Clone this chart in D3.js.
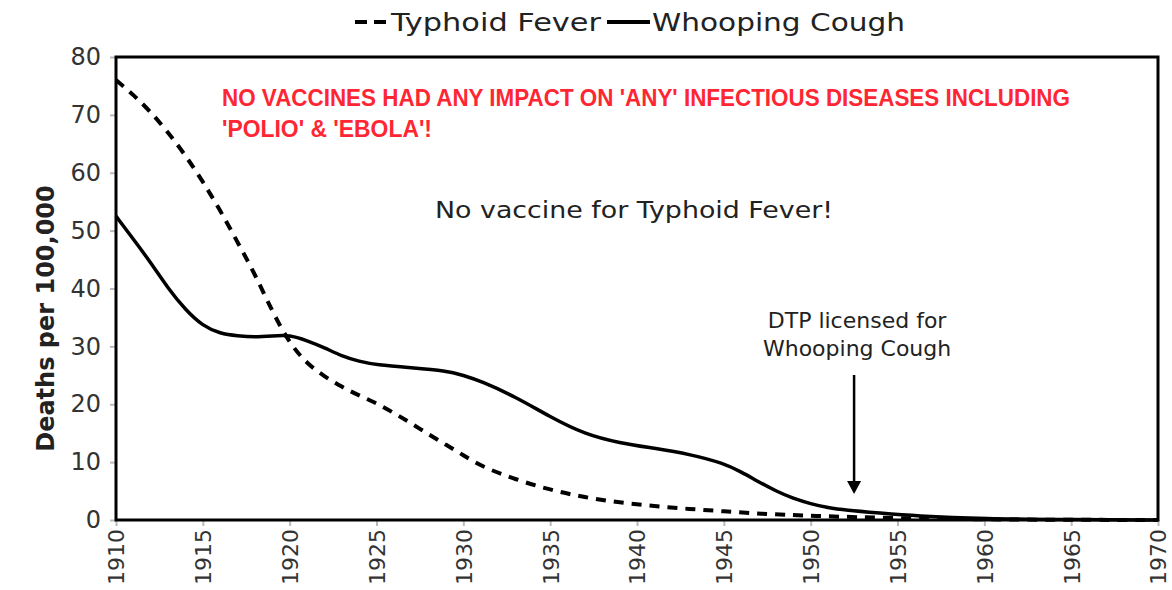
<!DOCTYPE html>
<html>
<head>
<meta charset="utf-8">
<script src="https://cdn.jsdelivr.net/npm/d3@7"></script>
<style>
  body { margin: 0; background: #fff; }
  svg text { font-family: "DejaVu Sans", Verdana, sans-serif; }
</style>
</head>
<body>
<div class="chart"></div>
<script>
// values (deaths per 100,000)
var typhoidYears = [1910, 1911, 1912, 1913, 1914, 1915, 1916, 1917, 1918, 1919, 1920, 1921, 1922, 1923, 1924, 1925, 1926, 1927, 1928, 1929, 1930, 1931, 1933, 1935, 1937, 1939, 1941, 1943, 1945, 1947, 1950, 1955, 1960, 1965, 1970];
var typhoidValues = [76, 73.5, 70.5, 67, 63, 58.5, 53.5, 48, 42.5, 36, 30.5, 27, 24.8, 23, 21.5, 20.2, 18.5, 16.7, 14.8, 13, 11.2, 9.3, 7, 5.2, 3.9, 3, 2.4, 1.9, 1.5, 1.1, 0.7, 0.3, 0.1, 0.03, 0];
var whoopingYears = [1910, 1911, 1912, 1913, 1914, 1915, 1916, 1917, 1918, 1919, 1920, 1921, 1922, 1923, 1924, 1925, 1927, 1929, 1930, 1931, 1933, 1935, 1937, 1939, 1941, 1943, 1945, 1946, 1947, 1948, 1949, 1950, 1951, 1952, 1954, 1956, 1960, 1965, 1970];
var whoopingValues = [52.5, 48.5, 44.5, 40, 36.3, 33.5, 32.2, 31.8, 31.6, 31.8, 32, 31, 29.8, 28.3, 27.4, 26.8, 26.3, 25.8, 25, 24, 21.3, 17.8, 14.8, 13.3, 12.4, 11.4, 9.8, 8.3, 6.6, 5, 3.7, 2.8, 2.1, 1.7, 1.2, 0.7, 0.2, 0.05, 0];
var xTicks = d3.range(1910, 1971, 5);
var yTicks = [0, 10, 20, 30, 40, 50, 60, 70, 80];
var seriesNames = ['Typhoid Fever', 'Whooping Cough'];
var headline = ["NO VACCINES HAD ANY IMPACT ON 'ANY' INFECTIOUS DISEASES INCLUDING", "'POLIO' & 'EBOLA'!"];
var typhoidNote = 'No vaccine for Typhoid Fever!';
var dtpNote = ['DTP licensed for', 'Whooping Cough'];
var dtpYear = 1952.5;

function init() {
  var width = 1172,
      height = 590,
      area = { x1: 116, y1: 57, x2: 1158, y2: 520 };

  var svg = d3.select('.chart')
    .append('svg')
      .attr('width', width)
      .attr('height', height);

  var x = d3.scaleLinear().domain([1910, 1970]).range([area.x1, area.x2]),
      y = d3.scaleLinear().domain([0, 80]).range([area.y2, area.y1]);

  // axes
  var yAxis = svg.append('g')
      .attr('transform', 'translate(' + area.x1 + ',0)')
      .call(d3.axisLeft(y).tickValues(yTicks).tickSize(6).tickPadding(9));
  yAxis.select('.domain').remove();
  yAxis.selectAll('line').attr('stroke', '#bbb').attr('stroke-width', 2);
  yAxis.selectAll('text').attr('font-size', 24).attr('fill', '#333')
      .attr('font-family', '"DejaVu Sans", sans-serif');

  var xAxis = svg.append('g')
      .attr('transform', 'translate(0,' + area.y2 + ')')
      .call(d3.axisBottom(x).tickValues(xTicks).tickFormat(d3.format('d')).tickSize(6));
  xAxis.select('.domain').remove();
  xAxis.selectAll('line').attr('stroke', '#bbb').attr('stroke-width', 2);
  xAxis.selectAll('text')
      .attr('font-size', 22).attr('fill', '#333')
      .attr('font-family', '"DejaVu Sans", sans-serif')
      .attr('transform', 'rotate(-90)')
      .attr('text-anchor', 'end')
      .attr('x', -9).attr('y', 0).attr('dy', '0.36em');

  svg.append('text')
      .attr('transform', 'translate(45,' + ((area.y1 + area.y2) / 2 + 30) + ') rotate(-90)')
      .attr('text-anchor', 'middle')
      .attr('dy', '0.36em')
      .attr('font-size', 24)
      .attr('font-weight', 'bold')
      .attr('fill', '#222')
      .text('Deaths per 100,000');

  // lines
  var line = d3.line()
      .x(function(d) { return x(d[0]); })
      .y(function(d) { return y(d[1]); })
      .curve(d3.curveBasis);

  svg.append('path')
      .datum(d3.zip(typhoidYears, typhoidValues))
      .attr('fill', 'none')
      .attr('stroke', '#000')
      .attr('stroke-width', 4)
      .attr('stroke-dasharray', '10,8')
      .attr('d', line);

  svg.append('path')
      .datum(d3.zip(whoopingYears, whoopingValues))
      .attr('fill', 'none')
      .attr('stroke', '#000')
      .attr('stroke-width', 3.5)
      .attr('d', line);

  // frame
  svg.append('rect')
      .attr('x', area.x1).attr('y', area.y1)
      .attr('width', area.x2 - area.x1).attr('height', area.y2 - area.y1)
      .attr('fill', 'none')
      .attr('stroke', '#000')
      .attr('stroke-width', 3);

  // legend
  var legend = svg.append('g');
  legend.append('line')
      .attr('x1', 355).attr('x2', 386).attr('y1', 22).attr('y2', 22)
      .attr('stroke', '#000').attr('stroke-width', 4).attr('stroke-dasharray', '12,7');
  legend.append('text')
      .attr('x', 391).attr('y', 22).attr('dy', '0.36em')
      .attr('font-size', 25).attr('fill', '#222')
      .attr('textLength', 210).attr('lengthAdjust', 'spacingAndGlyphs')
      .text(seriesNames[0]);
  legend.append('line')
      .attr('x1', 607).attr('x2', 650).attr('y1', 22).attr('y2', 22)
      .attr('stroke', '#000').attr('stroke-width', 4);
  legend.append('text')
      .attr('x', 652).attr('y', 22).attr('dy', '0.36em')
      .attr('font-size', 25).attr('fill', '#222')
      .attr('textLength', 253).attr('lengthAdjust', 'spacingAndGlyphs')
      .text(seriesNames[1]);

  // annotations
  var headLengths = [848, 210];
  svg.selectAll('text.headline').data(headline)
    .enter()
      .append('text')
        .attr('class', 'headline')
        .attr('x', 222)
        .attr('y', function(d, i) { return 106 + i * 31; })
        .style('font-family', '"Liberation Sans Narrow", "Liberation Sans", sans-serif')
        .attr('font-size', 23)
        .attr('font-weight', 'bold')
        .attr('fill', '#ff2633')
        .attr('textLength', function(d, i) { return headLengths[i]; })
        .attr('lengthAdjust', 'spacingAndGlyphs')
        .text(function(d) { return d; });

  svg.append('text')
      .attr('x', 435).attr('y', 210).attr('dy', '0.36em')
      .attr('font-size', 23).attr('fill', '#222')
      .attr('textLength', 398).attr('lengthAdjust', 'spacingAndGlyphs')
      .text(typhoidNote);

  var ax = x(dtpYear);
  svg.selectAll('text.dtp').data(dtpNote)
    .enter()
      .append('text')
        .attr('class', 'dtp')
        .attr('x', ax + 3)
        .attr('y', function(d, i) { return 320 + i * 28; })
        .attr('dy', '0.36em')
        .attr('text-anchor', 'middle')
        .attr('font-size', 22).attr('fill', '#222')
        .text(function(d) { return d; });

  svg.append('line')
      .attr('x1', ax).attr('x2', ax)
      .attr('y1', 375).attr('y2', 482)
      .attr('stroke', '#000').attr('stroke-width', 2.5);
  svg.append('path')
      .attr('d', 'M' + (ax - 7) + ',481 L' + (ax + 7) + ',481 L' + ax + ',494 Z')
      .attr('fill', '#000');
}

d3.select(window).on('load', init);
</script>
</body>
</html>
